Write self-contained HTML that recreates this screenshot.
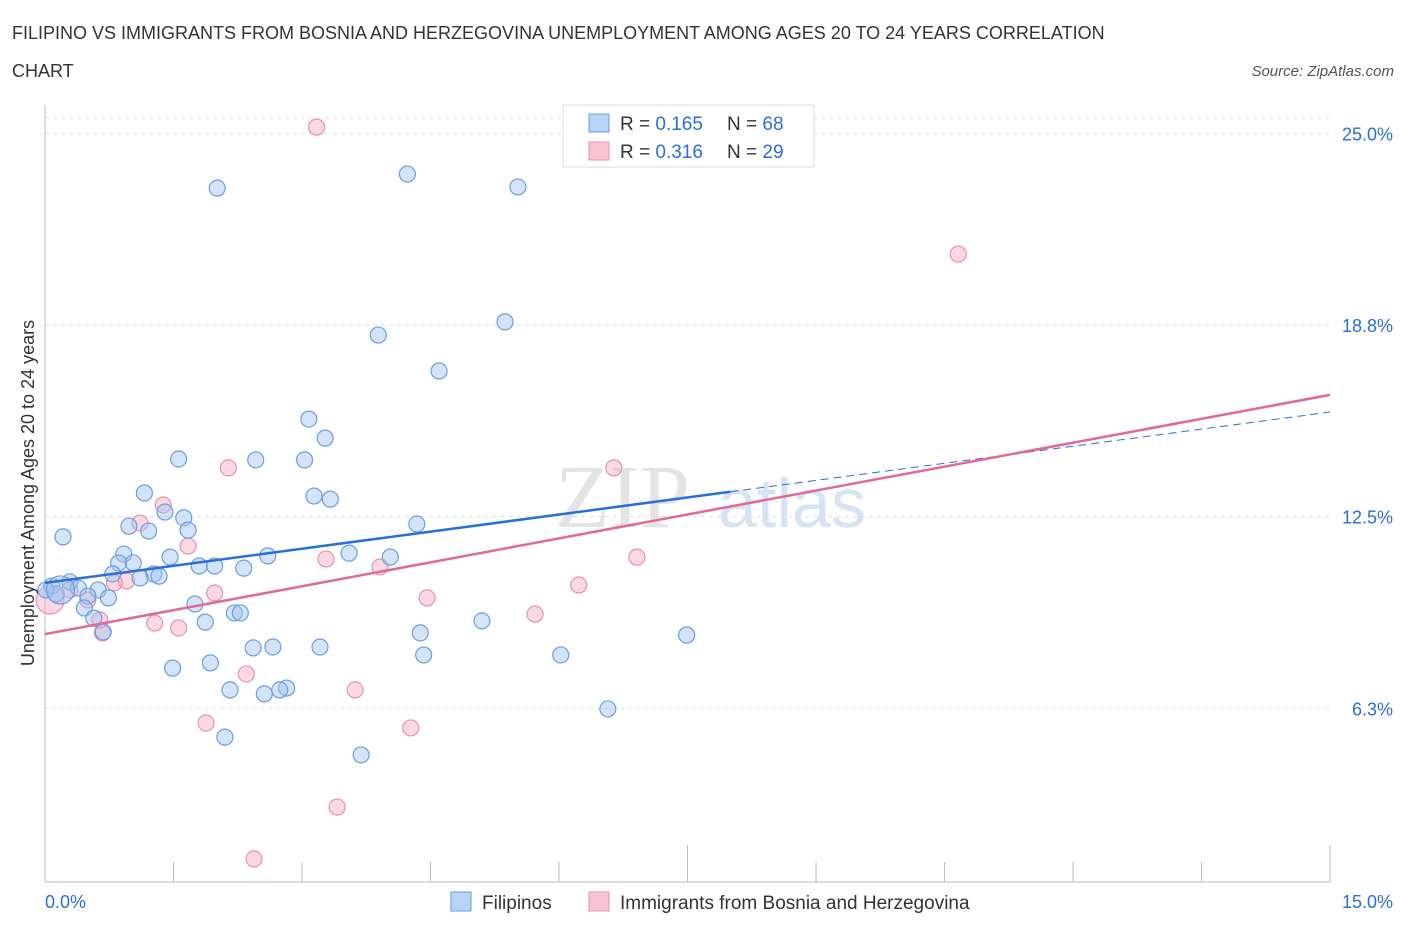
<!DOCTYPE html>
<html><head><meta charset="utf-8"><style>
body{margin:0;background:#fff;font-family:"Liberation Sans",sans-serif;}
</style></head><body>
<svg id="chart" width="1406" height="930" xmlns="http://www.w3.org/2000/svg" font-family="Liberation Sans, sans-serif">
<text x="12" y="39" font-size="18" fill="#333">FILIPINO VS IMMIGRANTS FROM BOSNIA AND HERZEGOVINA UNEMPLOYMENT AMONG AGES 20 TO 24 YEARS CORRELATION</text>
<text x="12" y="77" font-size="18" fill="#333">CHART</text>
<text x="1394" y="76" font-size="15" fill="#555" font-style="italic" text-anchor="end">Source: ZipAtlas.com</text>
<text x="555" y="527" font-size="90" fill="#e4e4e4" font-family="Liberation Serif, serif">ZIP</text>
<text x="718" y="527" font-size="70" fill="#d6e3f3">atlas</text>
<g id="grid"></g><g id="axes"></g><g id="marks"></g>
<text transform="translate(34,493) rotate(-90)" font-size="18" fill="#333" text-anchor="middle">Unemployment Among Ages 20 to 24 years</text>
<g>
<rect x="563" y="105" width="251" height="62" fill="#fff" stroke="#ddd"/>
<rect x="589" y="114" width="20" height="18" fill="#b8d3f5" stroke="#6a9ee0"/>
<rect x="589" y="142" width="20" height="18" fill="#f8c3d3" stroke="#e890b0"/>
<text x="620" y="130" font-size="19" fill="#333">R = <tspan fill="#2a6fd6">0.165</tspan></text>
<text x="727" y="130" font-size="19" fill="#333">N = <tspan fill="#2a6fd6">68</tspan></text>
<text x="620" y="158" font-size="19" fill="#333">R = <tspan fill="#2a6fd6">0.316</tspan></text>
<text x="727" y="158" font-size="19" fill="#333">N = <tspan fill="#2a6fd6">29</tspan></text>
</g>
<g>
<rect x="451" y="892" width="20" height="19" fill="#b8d3f5" stroke="#6a9ee0"/>
<text x="482" y="909" font-size="19" fill="#333">Filipinos</text>
<rect x="589" y="892" width="20" height="19" fill="#f8c3d3" stroke="#e890b0"/>
<text x="620" y="909" font-size="19" fill="#333">Immigrants from Bosnia and Herzegovina</text>
</g>
</svg>
<script>
const blueX=[2.01,4.23,5.52,5.37,3.89,4.60,3.08,3.27,1.56,2.46,3.03,1.16,3.14,3.33,1.40,1.62,0.98,1.67,1.21,0.21,4.34,3.55,4.03,2.60,0.92,1.46,0.86,1.03,1.80,1.98,2.32,0.79,1.27,1.33,1.11,0.29,0.08,0.39,0.62,0.13,0.50,0.74,1.75,0.46,2.21,2.28,0.57,1.87,5.10,0.68,4.38,7.49,3.21,2.43,2.66,4.42,6.02,1.93,1.49,2.16,2.82,2.74,2.56,6.57,2.10,3.69,0.01,0.18];
const blueY=[23.21,23.67,23.25,18.85,18.42,17.25,15.68,15.06,14.38,14.35,14.35,13.27,13.17,13.07,12.65,12.46,12.19,12.06,12.03,11.84,12.26,11.31,11.18,11.22,11.28,11.18,10.99,10.99,10.89,10.89,10.82,10.63,10.63,10.56,10.50,10.37,10.24,10.17,10.11,9.98,9.91,9.85,9.65,9.52,9.36,9.36,9.19,9.06,9.10,8.74,8.71,8.64,8.25,8.22,8.25,7.99,7.99,7.73,7.56,6.85,6.91,6.85,6.72,6.23,5.31,4.73,10.11,10.11];
const pinkX=[3.17,10.66,2.14,6.64,1.38,1.11,1.67,3.28,6.91,3.91,6.23,0.95,0.81,1.98,4.46,0.50,5.72,1.28,1.56,0.67,2.35,3.62,1.88,4.27,3.41,2.44,0.06,0.29,0.64];
const pinkY=[25.20,21.06,14.09,14.09,12.88,12.29,11.54,11.12,11.18,10.86,10.27,10.40,10.34,10.01,9.85,9.78,9.32,9.03,8.87,8.71,7.37,6.85,5.77,5.61,3.03,1.34,9.78,10.11,9.13];
const blueTrend=[10.34,15.91];
const pinkTrend=[8.67,16.47];
const yTicks=[25.0,18.75,12.5,6.25];
const yTickLabels=["25.0%","18.8%","12.5%","6.3%"];
const xTickLabels=["0.0%","15.0%"];
const NS="http://www.w3.org/2000/svg";
const sx=v=>45+v*85.67, sy=v=>900-v*30.67;
function mk(tag,attrs,parent){const e=document.createElementNS(NS,tag);for(const k in attrs)e.setAttribute(k,attrs[k]);document.getElementById(parent).appendChild(e);return e;}
yTicks.forEach((v,i)=>{
 const l=mk('line',{x1:45,x2:1330,y1:sy(v),y2:sy(v),stroke:'#ddd','stroke-dasharray':'4,4'},'grid');
 
 
 const t=mk('text',{x:1393,y:sy(v)+7,'font-size':18,fill:'#2a6fd6','text-anchor':'end'},'axes');
 t.textContent=yTickLabels[i];
 
 
});
const topGrid=mk('line',{x1:45,x2:1330,y1:118,y2:118,stroke:'#ddd','stroke-dasharray':'4,4'},'grid');


const ax=mk('line',{x1:45,x2:1330,y1:882,y2:882,stroke:'#bbb'},'axes');


const ay=mk('line',{x1:45,x2:45,y1:105,y2:882,stroke:'#bbb'},'axes');


for(let i=0;i<=10;i++){const x=sx(i*1.5);const tk=mk('line',{x1:x,x2:x,y1:(i%5==0&&i>0)?845:862,y2:882,stroke:'#bbb'},'axes');
 
 }
const xl0=mk('text',{x:45,y:908,'font-size':18,fill:'#2a6fd6'},'axes');xl0.textContent=xTickLabels[0];


const xl1=mk('text',{x:1393,y:908,'font-size':18,fill:'#2a6fd6','text-anchor':'end'},'axes');xl1.textContent=xTickLabels[1];


function dots(xs,ys,fill,stroke,name){xs.forEach((x,i)=>{const big=(i===xs.length-1&&name==='filipino-point')||(i===xs.length-3&&name==='bosnia-point');
 const c=mk('circle',{cx:sx(x),cy:sy(ys[i]),r:big?14:8,fill:fill,stroke:stroke,'stroke-width':1.2},'marks');
 
 });}
dots(pinkX,pinkY,'rgba(245,170,195,0.45)','#e890b0','bosnia-point');
dots(blueX,blueY,'rgba(160,196,240,0.45)','#6a9ee0','filipino-point');
const bAt=x=>blueTrend[0]+(blueTrend[1]-blueTrend[0])*x/15;
const b1=mk('line',{x1:sx(0),y1:sy(bAt(0)),x2:sx(8),y2:sy(bAt(8)),stroke:'#2a6fd6','stroke-width':2.5},'marks');


const b2=mk('line',{x1:sx(8),y1:sy(bAt(8)),x2:sx(15),y2:sy(bAt(15)),stroke:'#2a6fd6','stroke-width':1,'stroke-dasharray':'8,5'},'marks');


const p1=mk('line',{x1:sx(0),y1:sy(pinkTrend[0]),x2:sx(15),y2:sy(pinkTrend[1]),stroke:'#e0699a','stroke-width':2.5},'marks');


</script>
</body></html>
